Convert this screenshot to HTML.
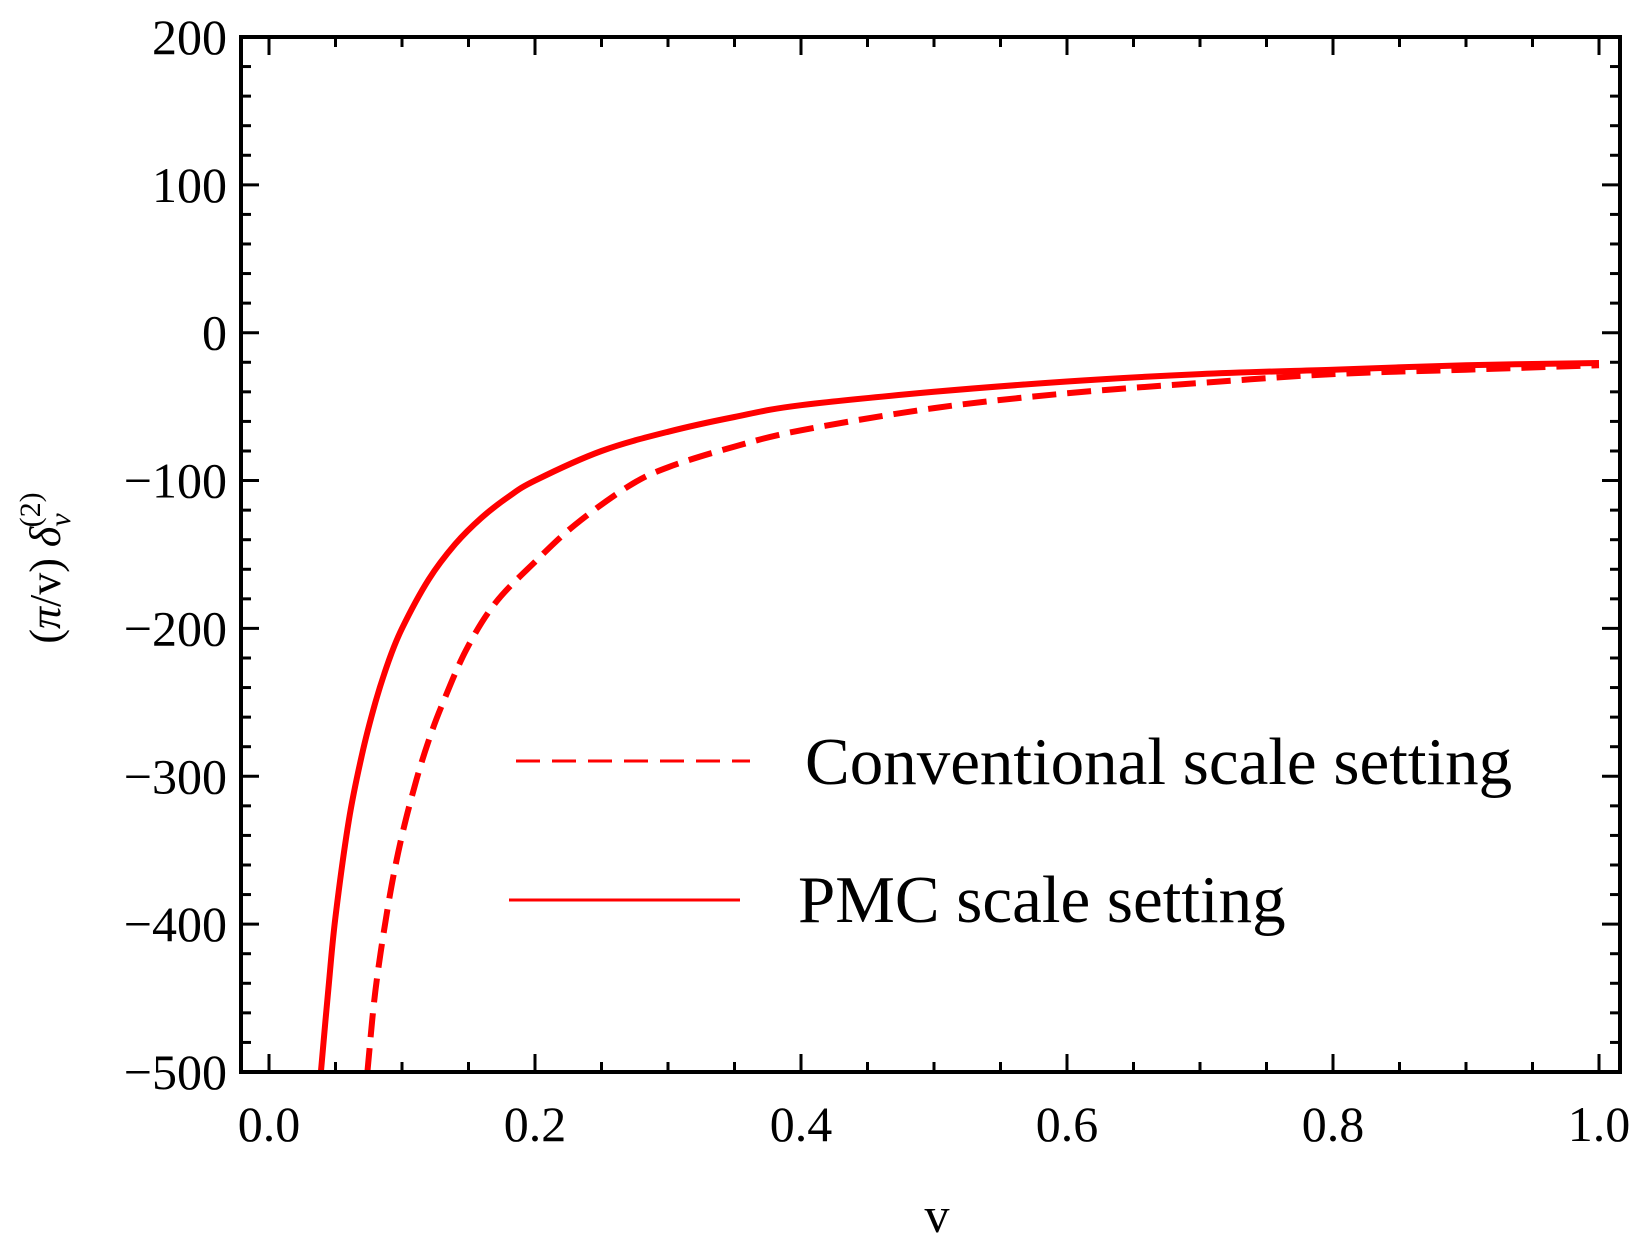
<!DOCTYPE html>
<html><head><meta charset="utf-8"><style>
html,body{margin:0;padding:0;background:#fff;}
svg{display:block;}
text{font-family:"Liberation Serif",serif;fill:#000;}
</style></head><body>
<svg id="chart" width="1642" height="1236" viewBox="0 0 1642 1236" xmlns="http://www.w3.org/2000/svg">
<g id="ticks"></g>
<g id="series"></g>
<rect x="241" y="37" width="1379" height="1035" fill="none" stroke="#000" stroke-width="4"/>
<g id="labels"></g>
<text x="937" y="1232" font-size="50" text-anchor="middle">v</text>
<text transform="translate(60,568) rotate(-90)" font-size="44" text-anchor="middle">(<tspan font-style="italic">π</tspan>/v) <tspan font-style="italic">δ</tspan><tspan font-style="italic" font-size="30" dy="10">v</tspan><tspan font-size="30" dx="-14" dy="-30">(2)</tspan></text>
<g>
<line x1="516" y1="761" x2="750" y2="761" stroke="#f00" stroke-width="3" stroke-dasharray="24,12"/>
<text x="805" y="784" font-size="67">Conventional scale setting</text>
<line x1="509" y1="900" x2="740" y2="900" stroke="#f00" stroke-width="3"/>
<text x="798" y="922" font-size="67">PMC scale setting</text>
</g>
</svg>
<script>
const xTicks = [0.0, 0.2, 0.4, 0.6, 0.8, 1.0];
const xTickLabels = ["0.0", "0.2", "0.4", "0.6", "0.8", "1.0"];
const yTicks = [200, 100, 0, -100, -200, -300, -400, -500];
const yTickLabels = ["200", "100", "0", "\u2212100", "\u2212200", "\u2212300", "\u2212400", "\u2212500"];
const pmcV = [0.039,0.045,0.05,0.06,0.07,0.08,0.09,0.1,0.12,0.14,0.16,0.18,0.2,0.25,0.3,0.35,0.4,0.5,0.6,0.7,0.8,0.9,1.0];
const pmcY = [-500,-440,-395,-330,-285,-250,-222,-200,-167,-143,-125,-111,-100,-80,-67,-57,-49,-40,-33,-28,-25,-22,-20.5];
const convV = [0.074,0.08,0.09,0.1,0.111,0.12,0.13,0.148,0.17,0.2,0.23,0.27,0.3,0.35,0.4,0.5,0.6,0.7,0.8,0.9,1.0];
const convY = [-500,-445,-385,-340,-302,-276,-252,-215,-183,-155,-130,-104,-91,-77,-66,-51,-41,-34,-28,-25,-22];

const NS = "http://www.w3.org/2000/svg";
const X0 = 269, XS = 1330, Y0 = 332.7, YS = 1.4786;
function sx(v){ return X0 + v*XS; }
function sy(y){ return Y0 - y*YS; }
function mk(tag, attrs, parent){ const e=document.createElementNS(NS,tag); for(const k in attrs) e.setAttribute(k,attrs[k]); parent.appendChild(e); return e; }

const tg = document.getElementById('ticks');
const lg = document.getElementById('labels');
const L=241,R=1620,T=37,B=1072;
for(let i=-1;i<=21;i++){
  const v=i*0.05; const x=sx(v); if(x<L||x>R) continue;
  const len = (i%4===0)?18:10;
  const t1=mk('line',{x1:x,y1:B,x2:x,y2:B-len,stroke:'#000','stroke-width':3},tg);
  
  
  const t2=mk('line',{x1:x,y1:T,x2:x,y2:T+len,stroke:'#000','stroke-width':3},tg);
  
  
}
for(let i=0;i<=35;i++){
  const yv=200-i*20; const y=sy(yv);
  const len=(i%5===0)?18:10;
  const t1=mk('line',{x1:L,y1:y,x2:L+len,y2:y,stroke:'#000','stroke-width':3},tg);
  
  
  const t2=mk('line',{x1:R,y1:y,x2:R-len,y2:y,stroke:'#000','stroke-width':3},tg);
  
  
}
xTicks.forEach((v,i)=>{
  const t=mk('text',{x:sx(v),y:1141,'font-size':50,'text-anchor':'middle'},lg);
  t.textContent=xTickLabels[i];
  
  
});
yTicks.forEach((v,i)=>{
  const t=mk('text',{x:227,y:sy(v)+17,'font-size':50,'text-anchor':'end'},lg);
  t.textContent=yTickLabels[i];
  
  
});

const sg=document.getElementById('series');
function path(vs,ys){
  const p=vs.map((v,i)=>[sx(v),sy(ys[i])]);
  let d='M'+p[0][0].toFixed(1)+','+p[0][1].toFixed(1);
  for(let i=0;i<p.length-1;i++){
    const p0=p[Math.max(0,i-1)],p1=p[i],p2=p[i+1],p3=p[Math.min(p.length-1,i+2)];
    const c1=[p1[0]+(p2[0]-p0[0])/6,p1[1]+(p2[1]-p0[1])/6];
    const c2=[p2[0]-(p3[0]-p1[0])/6,p2[1]-(p3[1]-p1[1])/6];
    d+=' C'+c1[0].toFixed(1)+','+c1[1].toFixed(1)+' '+c2[0].toFixed(1)+','+c2[1].toFixed(1)+' '+p2[0].toFixed(1)+','+p2[1].toFixed(1);
  }
  return d;
}
const cp=mk('path',{d:path(convV,convY),fill:'none',stroke:'#f00','stroke-width':6,'stroke-dasharray':'24,11','stroke-linejoin':'round'},sg);


const pp=mk('path',{d:path(pmcV,pmcY),fill:'none',stroke:'#f00','stroke-width':6,'stroke-linejoin':'round'},sg);


</script>
</body></html>
